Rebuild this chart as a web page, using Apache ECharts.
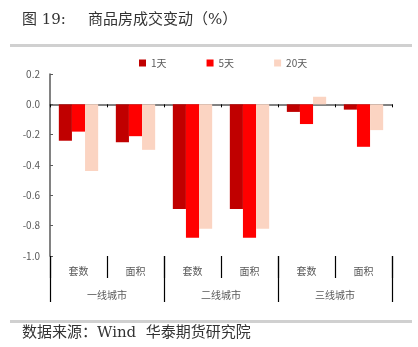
<!DOCTYPE html>
<html><head><meta charset="utf-8">
<script src="https://cdn.jsdelivr.net/npm/echarts@6/dist/echarts.min.js"></script>
<style>html,body{margin:0;padding:0;background:#fff}#c{width:418px;height:347px}</style>
</head><body><div id="c"></div>
<script>
const subCategories = ['套数', '面积', '套数', '面积', '套数', '面积'];
const groupCategories = ['一线城市', '二线城市', '三线城市'];
const seriesNames = ['1天', '5天', '20天'];
const day1 = [-0.24, -0.25, -0.69, -0.69, -0.05, -0.035];
const day5 = [-0.18, -0.21, -0.88, -0.88, -0.13, -0.28];
const day20 = [-0.44, -0.30, -0.82, -0.82, 0.05, -0.17];
const yTicks = [-1.0, -0.8, -0.6, -0.4, -0.2, 0.0, 0.2];

const colors = ['#C00000', '#FF0000', '#FBD4C2'];
const values = [day1, day5, day20];
const chart = echarts.init(document.getElementById('c'));
const cjk = '"DejaVu Serif","Noto Sans CJK SC",serif';
const sans = '"Noto Sans CJK SC","Noto Sans",sans-serif';
chart.setOption({
  animation: false,
  textStyle: {fontFamily: sans},
  legend: {
    top: 53, left: 134, itemWidth: 7, itemHeight: 7, itemGap: 40,
    icon: 'rect',
    textStyle: {fontSize: 10, color: '#595959', fontFamily: sans},
    data: seriesNames
  },
  grid: {left: 50, right: 26, top: 74, bottom: 91, containLabel: false},
  xAxis: [
    {type: 'category', data: subCategories, gridIndex: 0,
     axisLine: {onZero: true, lineStyle: {color: '#595959', width: 1.5}},
     axisTick: {show: true, interval: 0, length: 3, inside: false, lineStyle: {color: '#000'}},
     axisLabel: {show: false}},
    {type: 'category', data: subCategories, gridIndex: 0, position: 'bottom',
     axisLine: {show: false},
     axisTick: {show: true, interval: 0, length: 22, lineStyle: {color: '#000', width: 1.2}},
     axisLabel: {show: true, interval: 0, margin: 10, fontSize: 10, color: '#595959'}},
    {type: 'category', data: groupCategories, gridIndex: 0, position: 'bottom',
     axisLine: {show: false},
     axisTick: {show: true, interval: 0, length: 46, lineStyle: {color: '#000', width: 1.2}},
     axisLabel: {show: true, interval: 0, margin: 34, fontSize: 10, color: '#595959'}}
  ],
  yAxis: {
    type: 'value', min: yTicks[0], max: yTicks[yTicks.length - 1], interval: 0.2,
    splitLine: {show: false},
    axisLine: {show: true, lineStyle: {color: '#595959', width: 1.5}},
    axisTick: {show: true, inside: true, length: 3, lineStyle: {color: '#595959'}},
    axisLabel: {fontSize: 10, color: '#595959', margin: 10,
      formatter: v => v.toFixed(1)}
  },
  series: seriesNames.map((n, i) => ({
    name: n, type: 'bar', xAxisIndex: 0, data: values[i],
    barGap: '0%', barCategoryGap: '31%',
    itemStyle: {color: colors[i]}
  })),
  graphic: [
    {type: 'text', left: 22, top: 13, style: {text: '图 19:', font: '15px ' + cjk, fill: '#333'}},
    {type: 'text', left: 88, top: 13, style: {text: '商品房成交变动（%）', font: '15px ' + cjk, fill: '#333'}},
    {type: 'rect', shape: {x: 10, y: 44, width: 402, height: 3}, style: {fill: '#D0D0D0'}},
    {type: 'rect', shape: {x: 10, y: 320, width: 402, height: 3}, style: {fill: '#D0D0D0'}},
    {type: 'text', left: 22, top: 326, style: {text: '数据来源：Wind  华泰期货研究院', font: '15px ' + cjk, fill: '#333'}}
  ]
});
</script></body></html>
